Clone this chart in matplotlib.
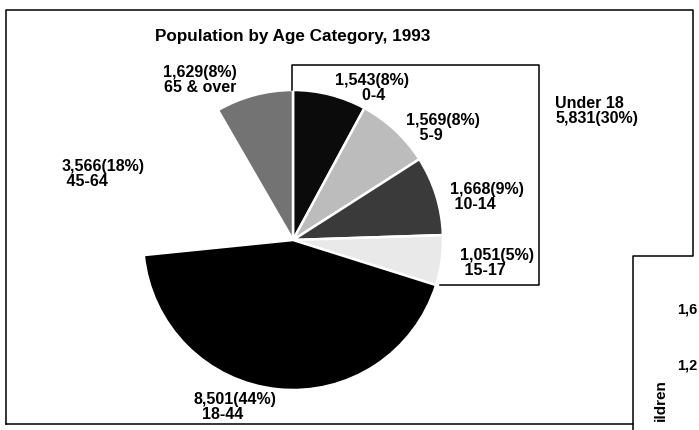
import matplotlib.pyplot as plt

# datos del grafico (miles de personas)
grupos = ['0-4', '5-9', '10-14', '15-17', '18-44', '45-64', '65 & over']
poblacion = [1543, 1569, 1668, 1051, 8501, 3566, 1629]
porcentajes = [8, 8, 9, 5, 44, 18, 8]
total_menores = 5831
pct_menores = 30
colores = ['#0b0b0b', '#bcbcbc', '#3a3a3a', '#e9e9e9', '#000000', 'white', '#737373']

W, H = 699, 430
plt.rcParams['font.family'] = ['Liberation Sans', 'DejaVu Sans']


def py(y):
    # pixel desde arriba -> coordenada de datos
    return H - y


fig = plt.figure(figsize=(W / 100, H / 100), dpi=100)
ax = fig.add_axes([0, 0, 1, 1])

cx, cy, r = 293, 240, 150
wedges, _ = ax.pie(poblacion, colors=colores, startangle=90, counterclock=False,
                   center=(cx, py(cy)), radius=r, frame=True,
                   wedgeprops=dict(edgecolor='white', linewidth=1.8))
# el tramo 45-64 no esta sombreado en el original
wedges[5].set_edgecolor('none')

ax.set_xlim(0, W)
ax.set_ylim(0, H)
ax.set_aspect('auto')
ax.axis('off')

# marco exterior
lw = 1.1
ax.plot([6, 6, 693, 693, 633, 633], [py(424), py(10), py(10), py(256), py(256), py(430)], color='black', lw=lw)
ax.plot([6, 633], [py(424), py(424)], color='black', lw=lw)
# recuadro "Under 18"
ax.plot([292, 292, 539, 539, 440], [py(90), py(65), py(65), py(285), py(285)], color='black', lw=lw)

ax.text(293, py(37), 'Population by Age Category, 1993', ha='center', va='center',
        fontsize=12.3, fontweight='bold')

tf = dict(fontsize=11.5, fontweight='bold', va='center', linespacing=0.95)


def etiqueta(i):
    return f'{poblacion[i]:,}({porcentajes[i]}%)'


ax.text(200, py(80), f'{etiqueta(6)}\n{grupos[6]}', ha='center', **tf)
ax.text(62, py(174), f'{etiqueta(5)}\n {grupos[5]}', ha='left', **tf)
ax.text(335, py(88), f'{etiqueta(0)}\n      {grupos[0]}', ha='left', **tf)
ax.text(406, py(128), f'{etiqueta(1)}\n   {grupos[1]}', ha='left', **tf)
ax.text(450, py(197), f'{etiqueta(2)}\n {grupos[2]}', ha='left', **tf)
ax.text(460, py(263), f'{etiqueta(3)}\n {grupos[3]}', ha='left', **tf)
ax.text(193, py(407), f'{etiqueta(4)}\n  {grupos[4]}', ha='left', **tf)
ax.text(555, py(111), f'Under 18\n{total_menores:,}({pct_menores}%)', ha='left', **tf)

# fragmento del grafico vecino
ax.text(697, py(310), '1,6', ha='right', va='center', fontsize=10.5, fontweight='bold')
ax.text(697, py(366), '1,2', ha='right', va='center', fontsize=10.5, fontweight='bold')
ax.text(661, py(400), 'ildren', ha='center', va='center', rotation=90,
        fontsize=11, fontweight='bold')

fig.savefig('out.png', dpi=100)
